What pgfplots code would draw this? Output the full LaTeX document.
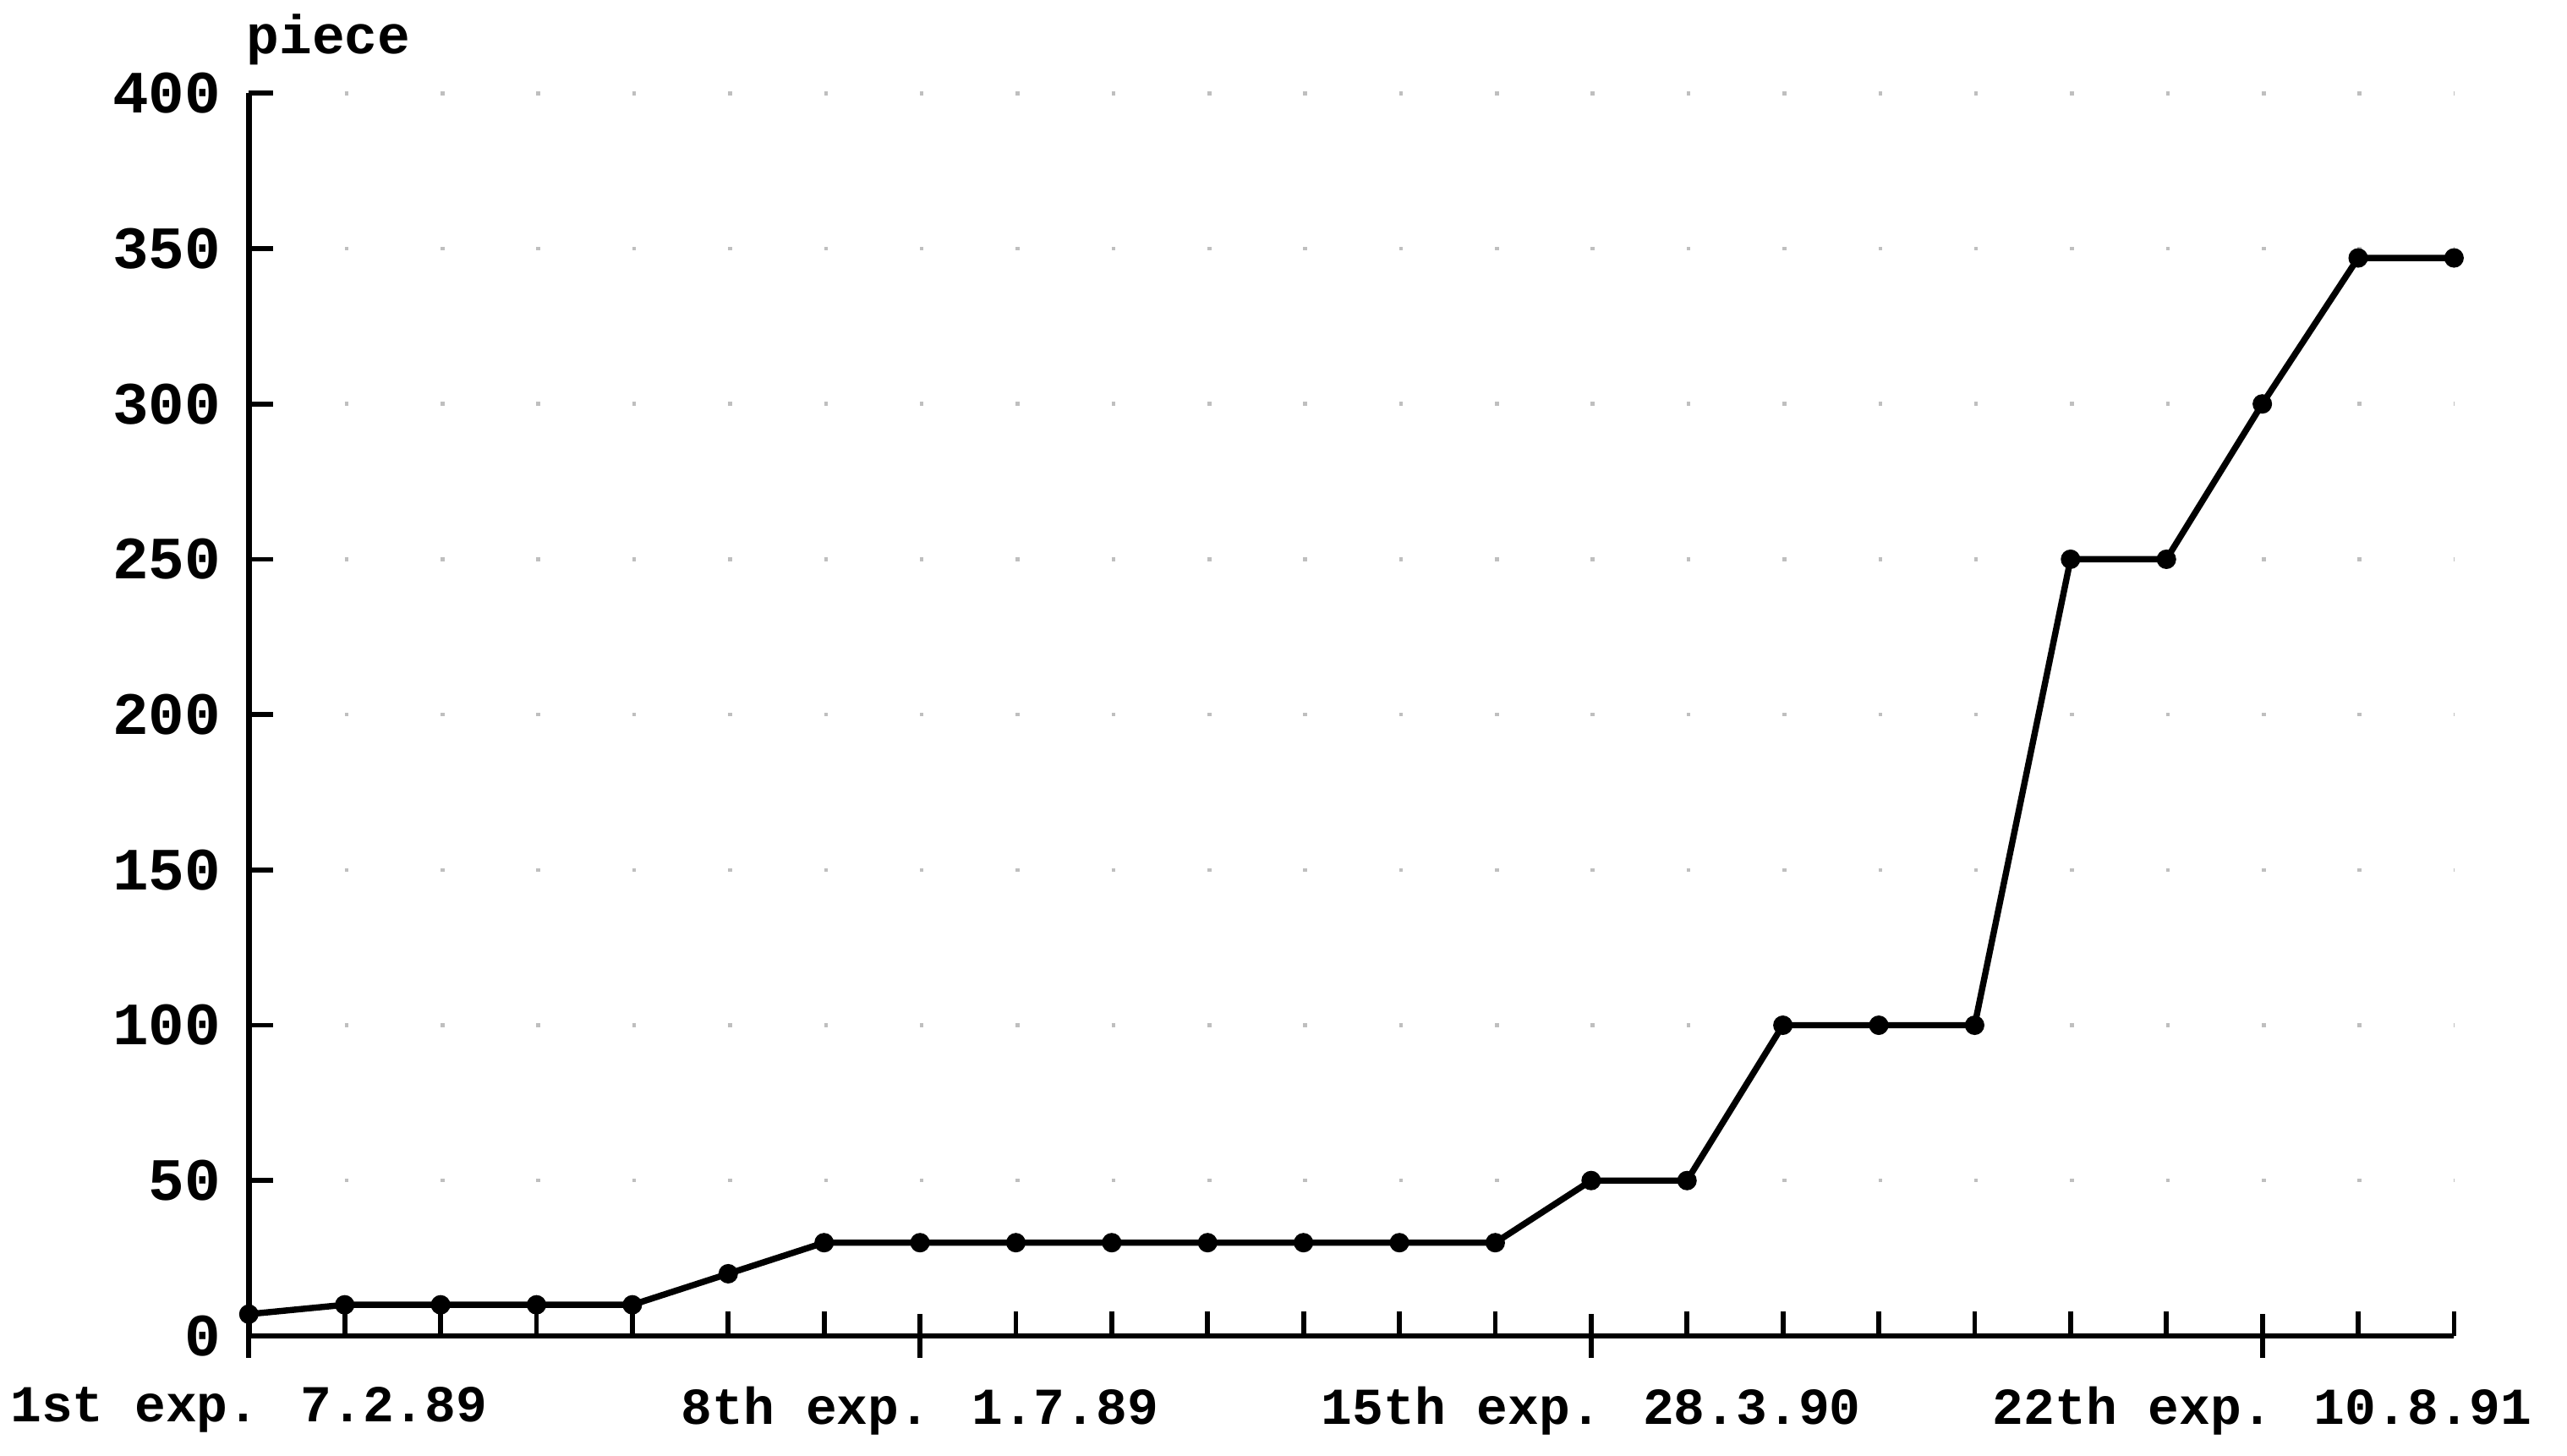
\documentclass[border=0pt]{standalone}
\usepackage{fontspec}
\setmainfont{Liberation Mono}
\usepackage{pgfplots}
\pgfplotsset{compat=1.18}
\begin{document}
\begin{tikzpicture}
\begin{axis}[
  scale only axis,
  width=404.1pt, height=227.7pt,
  xmin=0, xmax=23, ymin=0, ymax=400,
  axis x line=bottom, axis y line=left,
  axis line style={-, line width=1pt},
  tick align=inside,
  major tick length=4.5pt,
  every tick/.style={black, line width=0.9pt},
  xtick={1,2,3,4,5,6,8,9,10,11,12,13,15,16,17,18,19,20,22,23},
  xticklabels={},
  extra x ticks={0,7,14,21},
  extra x tick labels={1st exp. 7.2.89, 8th exp. 1.7.89, 15th exp. 28.3.90, 22th exp. 10.8.91},
  extra x tick style={tick align=center, major tick length=8pt,
    xticklabel style={font=\fontsize{9.5}{11}\selectfont\bfseries, yshift=-1.8pt}},
  ytick={0,50,...,400},
  yticklabel style={font=\fontsize{11}{13}\selectfont\bfseries, xshift=-1.6pt},
  /pgf/number format/assume math mode=true,
  ymajorgrids=true,
  grid style={black!25, line width=0.7pt, dash pattern=on 0.7pt off 16.865pt},
  clip=false,
]
\addplot[black, line width=1.15pt, mark=*, mark size=1.2pt] coordinates {
(0,7)(1,10)(2,10)(3,10)(4,10)(5,20)(6,30)(7,30)(8,30)(9,30)(10,30)(11,30)
(12,30)(13,30)(14,50)(15,50)(16,100)(17,100)(18,100)(19,250)(20,250)
(21,300)(22,347)(23,347)
};
\node[anchor=base west, inner sep=0pt, font=\fontsize{10}{12}\selectfont\bfseries]
  at (axis cs:0,400) [xshift=-0.6pt, yshift=7.2pt] {piece};
\end{axis}
\pgfresetboundingbox
\path (-45.6pt,-21.9pt) rectangle (424.8pt,244.8pt);
\end{tikzpicture}
\end{document}
